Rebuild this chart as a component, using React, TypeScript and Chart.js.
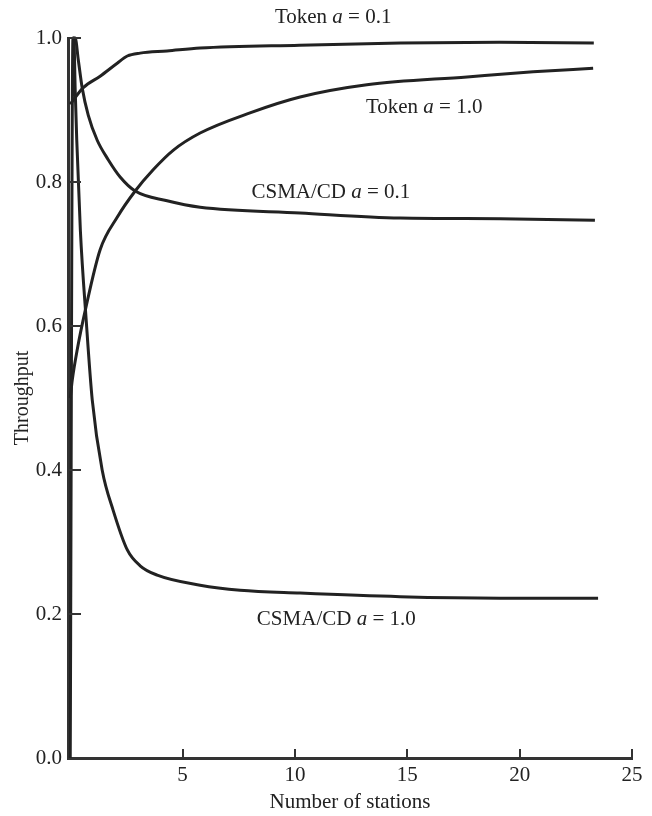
import React, { useEffect, useRef } from 'react';
import { Chart, registerables } from 'chart.js';

Chart.register(...registerables);

// ---- data (x = number of stations, y = throughput) ----
const xTickValues = [5, 10, 15, 20, 25];
const yTickValues = [0, 0.2, 0.4, 0.6, 0.8, 1.0];

const tokenA01X = [0, 0.58, 1.33, 2.09, 2.54, 3.11, 4.31, 5.78, 10.2, 14.7, 19.1, 23.3];
const tokenA01Y = [0.908, 0.931, 0.947, 0.965, 0.975, 0.979, 0.982, 0.986, 0.99, 0.993, 0.994, 0.993];

const tokenA10X = [0, 0.09, 0.31, 0.67, 1.33, 2.09, 2.89, 3.69, 4.58, 5.78, 8.0, 10.23, 13.2, 17.66, 20.6, 23.27];
const tokenA10Y = [0.5, 0.525, 0.567, 0.622, 0.706, 0.751, 0.7875, 0.817, 0.844, 0.868, 0.896, 0.918, 0.935, 0.946, 0.953, 0.958];

const csmaA01X = [0.14, 0.22, 0.36, 0.53, 0.8, 1.2, 1.69, 2.22, 2.89, 4.31, 5.78, 10.23, 14.68, 19.13, 23.35];
const csmaA01Y = [1.0, 1.0, 0.969, 0.931, 0.893, 0.858, 0.831, 0.807, 0.7875, 0.774, 0.765, 0.757, 0.75, 0.749, 0.747];

const csmaA10X = [0.0, 0.12, 0.16, 0.22, 0.29, 0.45, 0.71, 0.98, 1.42, 1.91, 2.54, 3.11, 3.87, 5.78, 7.56, 10.23, 14.68, 19.13, 23.49];
const csmaA10Y = [0.0, 1.0, 1.0, 0.928, 0.858, 0.733, 0.608, 0.497, 0.4, 0.344, 0.289, 0.267, 0.254, 0.24, 0.233, 0.229, 0.224, 0.222, 0.222];

const seriesNames = ['Token a = 0.1', 'Token a = 1.0', 'CSMA/CD a = 0.1', 'CSMA/CD a = 1.0'];

// curve labels: text pieces (italic flag) and anchor in data coordinates
const curveLabels = [
  { parts: [['Token ', false], ['a', true], [' = 0.1', false]], x: 11.7, y: 1.028 },
  { parts: [['Token ', false], ['a', true], [' = 1.0', false]], x: 15.75, y: 0.904 },
  { parts: [['CSMA/CD ', false], ['a', true], [' = 0.1', false]], x: 11.6, y: 0.785 },
  { parts: [['CSMA/CD ', false], ['a', true], [' = 1.0', false]], x: 11.84, y: 0.192 },
];

const FONT = "'Liberation Serif', 'Times New Roman', serif";
const INK = '#222';

const zip = (xs: number[], ys: number[]) => xs.map((x, i) => ({ x, y: ys[i] }));

const tickMarksPlugin = {
  id: 'tickMarks',
  afterDraw(chart: any) {
    const ctx = chart.ctx;
    const xs = chart.scales.x;
    const ys = chart.scales.y;
    const area = chart.chartArea;
    ctx.save();
    ctx.strokeStyle = '#333';
    ctx.lineWidth = 2;
    ctx.beginPath();
    xTickValues.forEach((v) => {
      const px = Math.round(xs.getPixelForValue(v));
      ctx.moveTo(px, area.bottom);
      ctx.lineTo(px, area.bottom - 9);
    });
    yTickValues.filter((v) => v > 0).forEach((v) => {
      const py = Math.round(ys.getPixelForValue(v));
      ctx.moveTo(area.left, py);
      ctx.lineTo(area.left + 13, py);
    });
    ctx.stroke();

    // curve labels
    ctx.fillStyle = INK;
    ctx.textBaseline = 'middle';
    ctx.textAlign = 'left';
    curveLabels.forEach((lab) => {
      const cx = xs.getPixelForValue(lab.x);
      const cy = ys.getPixelForValue(lab.y);
      let total = 0;
      const widths = lab.parts.map(([t, it]) => {
        ctx.font = `${it ? 'italic ' : ''}21px ${FONT}`;
        const w = ctx.measureText(t as string).width;
        total += w;
        return w;
      });
      let x = cx - total / 2;
      lab.parts.forEach(([t, it], i) => {
        ctx.font = `${it ? 'italic ' : ''}21px ${FONT}`;
        ctx.fillText(t as string, x, cy);
        x += widths[i];
      });
    });
    ctx.restore();
  },
};

export default function App() {
  const ref = useRef<HTMLCanvasElement | null>(null);
  useEffect(() => {
    document.body.style.margin = '0';
    if (!ref.current) return;
    const series = [
      zip(tokenA01X, tokenA01Y),
      zip(tokenA10X, tokenA10Y),
      zip(csmaA01X, csmaA01Y),
      zip(csmaA10X, csmaA10Y),
    ];
    const chart = new Chart(ref.current, {
      type: 'line',
      data: {
        datasets: series.map((d, i) => ({
          label: seriesNames[i],
          data: d,
          borderColor: INK,
          borderWidth: 3,
          pointRadius: 0,
          fill: false,
          cubicInterpolationMode: 'monotone' as const,
          clip: false as any,
        })),
      },
      options: {
        animation: false,
        responsive: false,
        layout: { padding: { top: 38, right: 20, left: 0, bottom: 0 } },
        plugins: { legend: { display: false }, tooltip: { enabled: false } },
        scales: {
          x: {
            type: 'linear',
            min: -0.1,
            max: 25,
            afterBuildTicks: (s: any) => {
              s.ticks = xTickValues.map((v) => ({ value: v }));
            },
            afterFit: (s: any) => {
              s.height = 58;
            },
            grid: { display: false, drawTicks: false },
            border: { display: true, color: '#333', width: 3 },
            ticks: {
              padding: 5,
              color: INK,
              font: { family: FONT, size: 21 },
              callback: (v: any) => String(v),
            },
            title: {
              display: true,
              text: 'Number of stations',
              color: INK,
              font: { family: FONT, size: 21 },
              padding: { top: 0, bottom: 1 },
            },
          },
          y: {
            type: 'linear',
            min: 0,
            max: 1,
            afterBuildTicks: (s: any) => {
              s.ticks = yTickValues.map((v) => ({ value: v }));
            },
            afterFit: (s: any) => {
              s.width = 68;
            },
            grid: { display: false, drawTicks: false },
            border: { display: true, color: '#333', width: 3 },
            ticks: {
              padding: 6,
              color: INK,
              font: { family: FONT, size: 21 },
              callback: (v: any) => Number(v).toFixed(1),
            },
            title: {
              display: true,
              text: 'Throughput',
              color: INK,
              font: { family: FONT, size: 20 },
              padding: { top: 11, bottom: 0 },
            },
          },
        },
      },
      plugins: [tickMarksPlugin],
    });
    return () => chart.destroy();
  }, []);
  return (
    <div style={{ width: 652, height: 816 }}>
      <canvas ref={ref} width={652} height={816} style={{ display: 'block', width: 652, height: 816 }} />
    </div>
  );
}
